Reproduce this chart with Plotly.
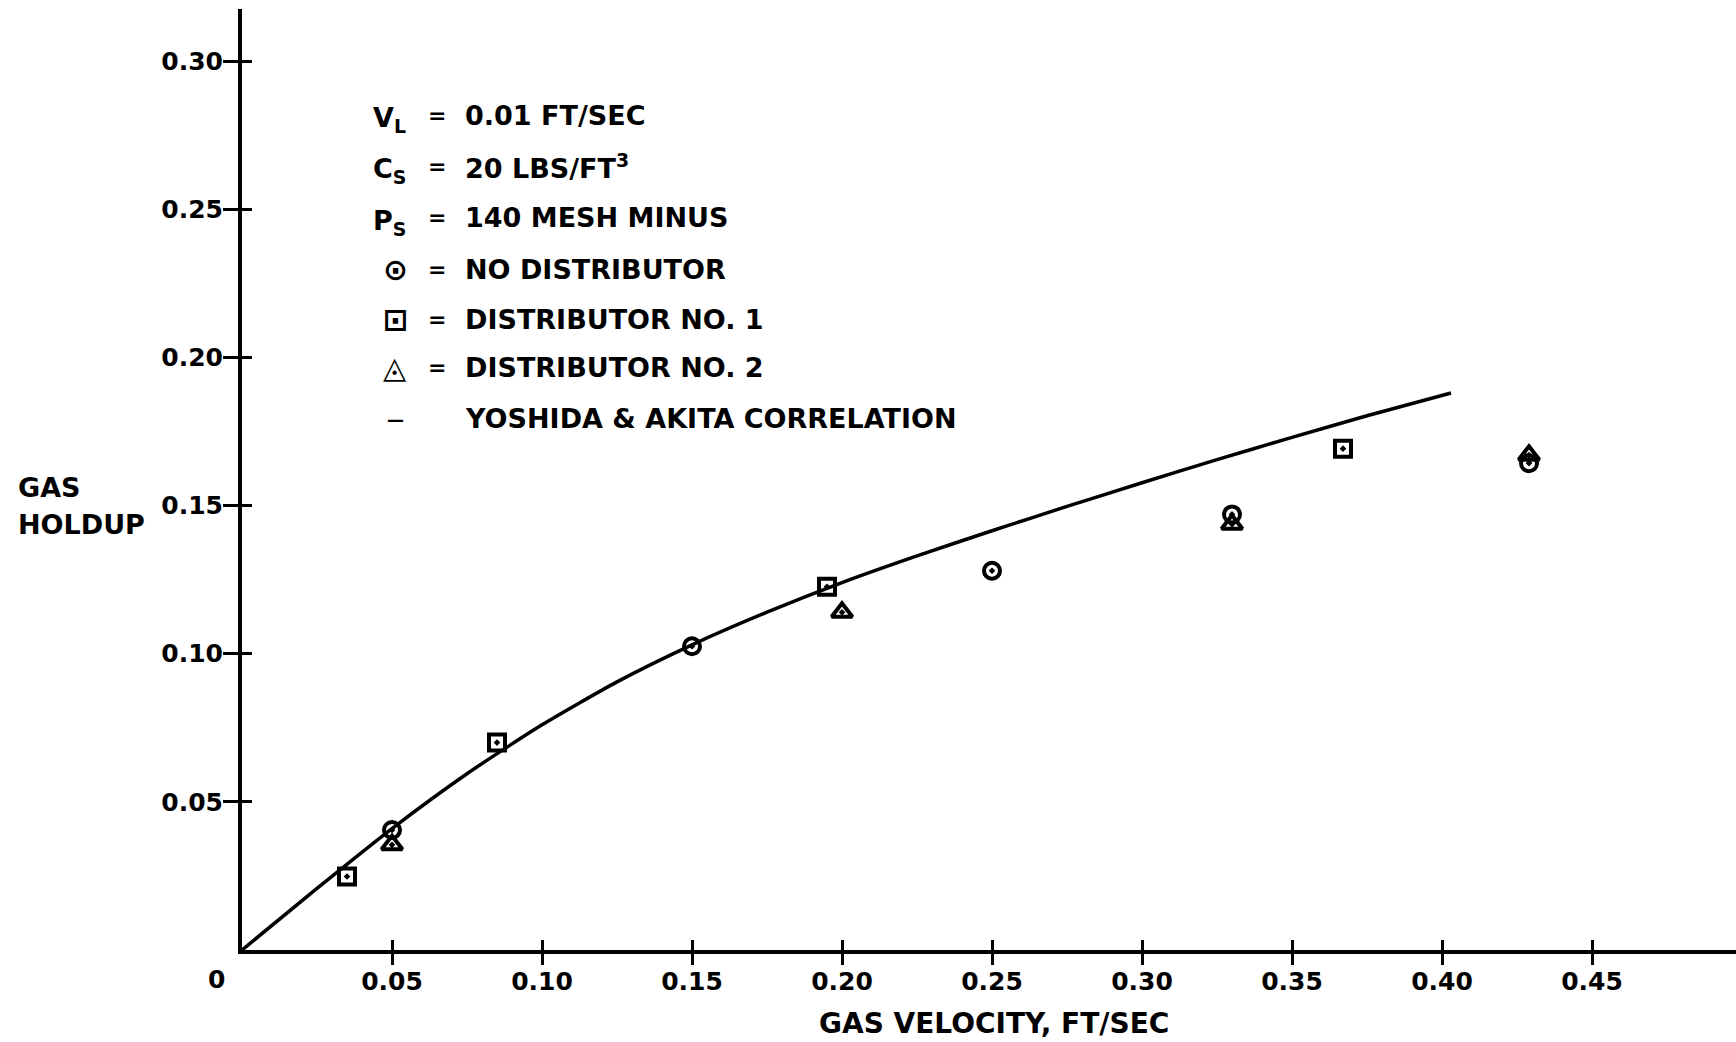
import plotly.graph_objects as go

# Gas velocity (ft/sec) vs gas holdup for each distributor arrangement
no_dist_velocity = [0.050, 0.150, 0.250, 0.330, 0.429]
no_dist_holdup = [0.0405, 0.1025, 0.1280, 0.1470, 0.1643]

dist1_velocity = [0.035, 0.085, 0.195, 0.367]
dist1_holdup = [0.0248, 0.0700, 0.1226, 0.1692]

dist2_velocity = [0.050, 0.200, 0.330, 0.429]
dist2_holdup = [0.0355, 0.1140, 0.1437, 0.1670]

# Yoshida & Akita correlation curve
corr_velocity = [0.000, 0.025, 0.050, 0.075, 0.100, 0.125, 0.150, 0.175, 0.200,
                 0.225, 0.250, 0.275, 0.300, 0.325, 0.350, 0.375, 0.403]
corr_holdup = [0.0000, 0.0208, 0.0410, 0.0595, 0.0760, 0.0905, 0.1030, 0.1140, 0.1240,
               0.1330, 0.1415, 0.1497, 0.1577, 0.1655, 0.1730, 0.1803, 0.1880]

x_ticks = [0.05, 0.10, 0.15, 0.20, 0.25, 0.30, 0.35, 0.40, 0.45]
x_tick_labels = ["0.05", "0.10", "0.15", "0.20", "0.25", "0.30", "0.35", "0.40", "0.45"]
y_ticks = [0.05, 0.10, 0.15, 0.20, 0.25, 0.30]
y_tick_labels = ["0.05", "0.10", "0.15", "0.20", "0.25", "0.30"]

# Page geometry (pixels)
W, H = 1736, 1042
ML, MR, MT, MB = 242, 0, 9, 92
PW, PH = W - ML - MR, H - MT - MB
X_MAX = PW / 3000.0
Y_MAX = PH / 2963.0

FONT = "DejaVu Sans"
INK = "black"


def paper(xp, yp):
    """Convert page pixel position to paper coordinates."""
    return (xp - ML) / PW, (H - MB - yp) / PH


fig = go.Figure()

fig.add_trace(go.Scatter(
    x=corr_velocity, y=corr_holdup, mode="lines",
    line=dict(color=INK, width=3.5, shape="spline", smoothing=0.6),
    name="YOSHIDA & AKITA CORRELATION", showlegend=False, hoverinfo="skip"))

marker_line = dict(color=INK, width=4)
fig.add_trace(go.Scatter(
    x=no_dist_velocity, y=no_dist_holdup, mode="markers",
    marker=dict(symbol="circle-open-dot", size=16, color=INK, line=marker_line),
    name="NO DISTRIBUTOR", showlegend=False))
fig.add_trace(go.Scatter(
    x=dist1_velocity, y=dist1_holdup, mode="markers",
    marker=dict(symbol="square-open-dot", size=16, color=INK, line=marker_line),
    name="DISTRIBUTOR NO. 1", showlegend=False))
fig.add_trace(go.Scatter(
    x=dist2_velocity, y=dist2_holdup, mode="markers",
    marker=dict(symbol="triangle-up-open-dot", size=18, color=INK, line=marker_line),
    name="DISTRIBUTOR NO. 2", showlegend=False))

# companion axes that draw the inner half of the cross-shaped ticks
fig.add_trace(go.Scatter(x=[], y=[], xaxis="x2", yaxis="y2", showlegend=False))

tick_font = dict(family=FONT, size=25, color=INK, weight="bold")

fig.update_layout(
    width=W, height=H,
    margin=dict(l=ML, r=MR, t=MT, b=MB, pad=0),
    paper_bgcolor="white", plot_bgcolor="white",
    showlegend=False,
    xaxis=dict(range=[0, X_MAX], showline=True, linewidth=4, linecolor=INK,
               ticks="outside", ticklen=11, tickwidth=3, tickcolor=INK,
               tickmode="array", tickvals=x_ticks, ticktext=x_tick_labels,
               tickfont=tick_font, showgrid=False, zeroline=False,
               ticklabelstandoff=-5),
    yaxis=dict(range=[0, Y_MAX], showline=True, linewidth=4, linecolor=INK,
               ticks="outside", ticklen=15, tickwidth=3, tickcolor=INK,
               tickmode="array", tickvals=y_ticks, ticktext=y_tick_labels,
               tickfont=tick_font, showgrid=False, zeroline=False,
               ticklabelstandoff=-5),
    xaxis2=dict(overlaying="x", anchor="y", side="bottom", range=[0, X_MAX],
                showline=False, ticks="inside", ticklen=10, tickwidth=3, tickcolor=INK,
                tickmode="array", tickvals=x_ticks, showticklabels=False,
                showgrid=False, zeroline=False),
    yaxis2=dict(overlaying="y", anchor="x", side="left", range=[0, Y_MAX],
                showline=False, ticks="inside", ticklen=10, tickwidth=3, tickcolor=INK,
                tickmode="array", tickvals=y_ticks, showticklabels=False,
                showgrid=False, zeroline=False),
)

annotations = []


def label(text, xp, yp, size, xanchor="left", yanchor="middle"):
    ax, ay = paper(xp, yp)
    annotations.append(dict(
        text=text, x=ax, y=ay, xref="paper", yref="paper",
        xanchor=xanchor, yanchor=yanchor, showarrow=False,
        font=dict(family=FONT, size=size, color=INK, weight="bold")))


# origin label and axis titles
label("0", 216, 979, 25, xanchor="center")
label("GAS VELOCITY, FT/SEC", 994, 1023, 28, xanchor="center")
label("GAS", 16, 487, 27)
label("HOLDUP", 16, 524, 27)

# key block: conditions and symbol explanations
LEG_SYM_X, LEG_EQ_X, LEG_TXT_X, LEG_VAR_X = 395, 437, 463, 371
rows = [
    ("V<sub>L</sub>", "0.01 FT/SEC", 116),
    ("C<sub>S</sub>", "20 LBS/FT<sup>3</sup>", 167),
    ("P<sub>S</sub>", "140 MESH MINUS", 218),
]
for var, txt, yp in rows:
    label(var, LEG_VAR_X, yp + 4, 27)
    label("=", LEG_EQ_X, yp, 22, xanchor="center")
    label(txt, LEG_TXT_X, yp, 27)

sym_rows = [
    ("\u2299", "NO DISTRIBUTOR", 269, 30),
    ("\u22a1", "DISTRIBUTOR NO. 1", 319, 30),
    ("\u25ec", "DISTRIBUTOR NO. 2", 367, 30),
]
for sym, txt, yp, ssize in sym_rows:
    label(sym, LEG_SYM_X, yp, ssize, xanchor="center")
    label("=", LEG_EQ_X, yp, 22, xanchor="center")
    label(txt, LEG_TXT_X, yp, 27)

label("\u2014", LEG_SYM_X, 420, 17, xanchor="center")
label("YOSHIDA &amp; AKITA CORRELATION", LEG_TXT_X, 418, 27)

fig.update_layout(annotations=annotations)

fig.write_html("out.html")
